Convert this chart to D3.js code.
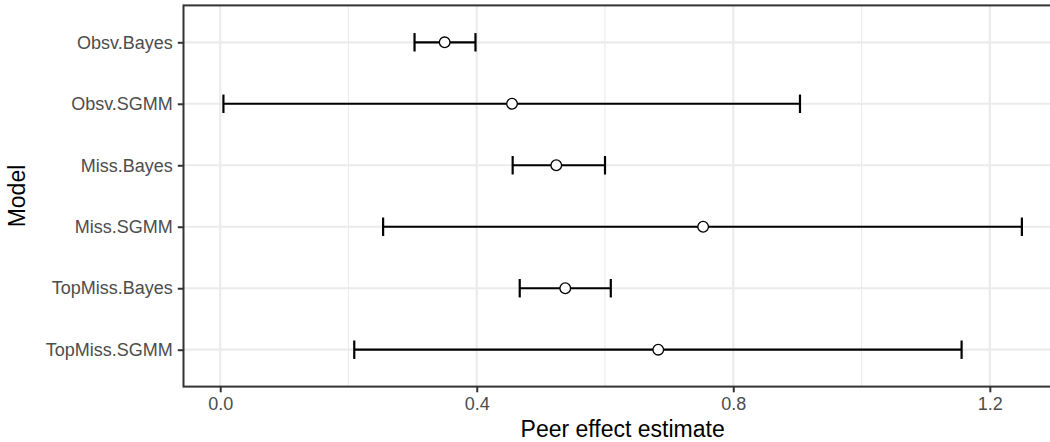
<!DOCTYPE html>
<html>
<head>
<meta charset="utf-8">
<script src="https://cdn.jsdelivr.net/npm/d3@7"></script>
<style>
  body { margin: 0; background: #fff; }
  svg { display: block; font-family: "Liberation Sans", Arial, sans-serif; }
</style>
</head>
<body>
<div class="container"></div>
<script>
const models = ['Obsv.Bayes', 'Obsv.SGMM', 'Miss.Bayes', 'Miss.SGMM', 'TopMiss.Bayes', 'TopMiss.SGMM'];
const estimates = [0.350, 0.455, 0.524, 0.753, 0.538, 0.683];
const lower = [0.303, 0.005, 0.456, 0.254, 0.467, 0.209];
const upper = [0.398, 0.904, 0.600, 1.250, 0.609, 1.156];
const xTicks = [0.0, 0.4, 0.8, 1.2];
const xMinor = [0.2, 0.6, 1.0];

const w = 1050;
const h = 442;

const margin = {
    top: 5.4,
    right: -11.8,
    bottom: 55.4,
    left: 183.5
}

const data = models.map((m, i) => ({ model: m, est: estimates[i], lo: lower[i], hi: upper[i] }));

const svg = d3.select('.container')
    .append('svg')
    .attr('width', w)
    .attr('height', h);

// ggplot-style expansion of 5% around the data range
const lo = d3.min(lower), hi = d3.max(upper);
const pad = (hi - lo) * 0.05;

const x = d3.scaleLinear()
    .domain([lo - pad, hi + pad])
    .range([margin.left, w - margin.right]);

const y = d3.scalePoint()
    .domain(models)
    .range([margin.top, h - margin.bottom])
    .padding(0.6);

const panel = svg.append('g');

// grid
panel.selectAll('.minor')
    .data(xMinor)
    .join('line')
    .attr('x1', d => x(d)).attr('x2', d => x(d))
    .attr('y1', margin.top).attr('y2', h - margin.bottom)
    .attr('stroke', '#ebebeb')
    .attr('stroke-width', 1.1);

panel.selectAll('.major')
    .data(xTicks)
    .join('line')
    .attr('x1', d => x(d)).attr('x2', d => x(d))
    .attr('y1', margin.top).attr('y2', h - margin.bottom)
    .attr('stroke', '#ebebeb')
    .attr('stroke-width', 2.2);

panel.selectAll('.hgrid')
    .data(models)
    .join('line')
    .attr('x1', margin.left).attr('x2', w - margin.right)
    .attr('y1', d => y(d)).attr('y2', d => y(d))
    .attr('stroke', '#ebebeb')
    .attr('stroke-width', 2.2);

// error bars
const capH = y.step() * 0.15;
const bars = panel.append('g')
    .selectAll('g')
    .data(data)
    .join('g')
    .attr('stroke', 'black')
    .attr('stroke-width', 2.2);

bars.append('line')
    .attr('x1', d => x(d.lo)).attr('x2', d => x(d.hi))
    .attr('y1', d => y(d.model)).attr('y2', d => y(d.model));
bars.append('line')
    .attr('x1', d => x(d.lo)).attr('x2', d => x(d.lo))
    .attr('y1', d => y(d.model) - capH).attr('y2', d => y(d.model) + capH);
bars.append('line')
    .attr('x1', d => x(d.hi)).attr('x2', d => x(d.hi))
    .attr('y1', d => y(d.model) - capH).attr('y2', d => y(d.model) + capH);

// points
panel.append('g')
    .selectAll('circle')
    .data(data)
    .join('circle')
    .attr('cx', d => x(d.est))
    .attr('cy', d => y(d.model))
    .attr('r', 5.3)
    .attr('fill', 'white')
    .attr('stroke', 'black')
    .attr('stroke-width', 1.3);

// panel border
svg.append('rect')
    .attr('x', margin.left)
    .attr('y', margin.top)
    .attr('width', w - margin.right - margin.left)
    .attr('height', h - margin.bottom - margin.top)
    .attr('fill', 'none')
    .attr('stroke', '#333333')
    .attr('stroke-width', 2);

// axes
const xAxis = svg.append('g')
    .attr('transform', `translate(0,${h - margin.bottom})`)
    .call(d3.axisBottom(x).tickValues(xTicks).tickFormat(d3.format('.1f')).tickSize(5.7).tickPadding(4));
const yAxis = svg.append('g')
    .attr('transform', `translate(${margin.left},0)`)
    .call(d3.axisLeft(y).tickSize(5.7).tickPadding(5));

[xAxis, yAxis].forEach(a => {
    a.select('.domain').remove();
    a.selectAll('.tick line').attr('stroke', '#333333').attr('stroke-width', 2);
    a.selectAll('.tick text')
        .attr('fill', '#4d4d4d')
        .style('font-size', '18px')
        .style('font-family', '"Liberation Sans", Arial, sans-serif');
});
xAxis.selectAll('.tick text').attr('dy', '0.76em');

// titles
svg.append('text')
    .attr('x', (margin.left + w - margin.right) / 2)
    .attr('y', 437)
    .attr('text-anchor', 'middle')
    .style('font-size', '23px')
    .text('Peer effect estimate');

svg.append('text')
    .attr('transform', `translate(25,${(margin.top + h - margin.bottom) / 2}) rotate(-90)`)
    .attr('text-anchor', 'middle')
    .style('font-size', '23px')
    .text('Model');
</script>
</body>
</html>
